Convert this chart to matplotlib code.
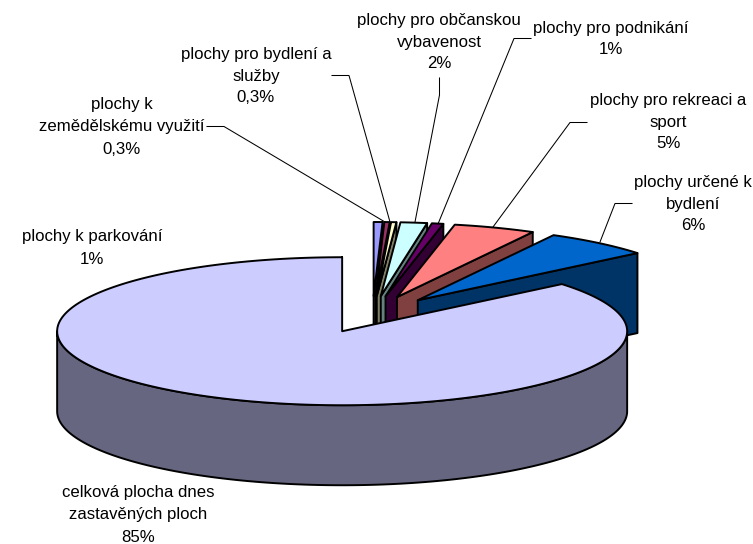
import numpy as np
import matplotlib
matplotlib.use("Agg")
import matplotlib.pyplot as plt
from matplotlib.patches import Polygon

# Slices in clockwise drawing order, starting at 12 o'clock
names = ["plochy k parkování", "plochy k\nzemědělskému využití", "plochy pro bydlení a\nslužby",
         "plochy pro občanskou\nvybavenost", "plochy pro podnikání", "plochy pro rekreaci a\nsport",
         "plochy určené k\nbydlení", "celková plocha dnes\nzastavěných ploch"]
value_labels = ["1%", "0,3%", "0,3%", "2%", "1%", "5%", "6%", "85%"]
values = [0.5, 0.3, 0.3, 1.5, 0.65, 4.65, 6.1, 85.95]
top_colors = ["#9999FF", "#993366", "#FFFFCC", "#CCFFFF", "#660066", "#FF8080", "#0066CC", "#CCCCFF"]
wall_colors = ["#4D4D80", "#4D1A33", "#808066", "#668080", "#330033", "#804040", "#003366", "#666680"]

# Chart layout, in pixels
W, H = 753, 544
CENTER = (372.5, 314.5)
RX, RY, DEPTH = 285.0, 74.0, 80.0
EXPLODE = 0.25
EDGE = 1.4

# label centre x, first-line centre y
label_pos = [(92, 237), (122, 105), (256, 54), (439, 20), (611, 28), (668, 100), (693, 182), (138, 493)]
leaders = [None,
           [(207, 126.5), (224, 126.5), (385, 222)],
           [(332, 75.5), (349, 75.5), (390, 222)],
           [(439.5, 78), (439.5, 95), (415, 222)],
           [(531, 38.5), (514, 38.5), (438, 224)],
           [(587, 122.5), (570, 122.5), (493, 227)],
           [(632, 203.5), (615, 203.5), (600, 242)],
           None]

plt.rcParams['font.family'] = ['Liberation Sans', 'DejaVu Sans']
fig = plt.figure(figsize=(W / 100, H / 100), dpi=100, facecolor="white")
ax = fig.add_axes([0, 0, 1, 1])
ax.set_xlim(0, W)
ax.set_ylim(H, 0)
ax.axis("off")


def rim(theta_deg, apex):
    t = np.radians(theta_deg)
    return np.column_stack([apex[0] + RX * np.sin(t), apex[1] - RY * np.cos(t)])


def extrude(path):
    lower = path[::-1] + np.array([0, DEPTH])
    return np.vstack([path, lower])


fractions = np.array(values) / np.sum(values) * 360.0
ends = np.cumsum(fractions)
starts = ends - fractions

for a0, a1, top_c, wall_c in zip(starts, ends, top_colors, wall_colors):
    mid = np.radians((a0 + a1) / 2)
    apex = np.array([CENTER[0] + EXPLODE * RX * np.sin(mid), CENTER[1] - EXPLODE * RY * np.cos(mid)])
    kw = dict(edgecolor="black", linewidth=EDGE, joinstyle="round")
    # radial walls that face the viewer
    for ang, vis in ((a1, 0 < a1 % 360 < 180), (a0, 180 < a0 % 360 < 360)):
        if vis:
            edge = np.vstack([apex, rim(np.array([ang]), apex)])
            ax.add_patch(Polygon(extrude(edge), facecolor=wall_c, **kw))
    # outer wall, front half only
    lo, hi = max(a0, 90), min(a1, 270)
    if hi > lo:
        arc = rim(np.linspace(lo, hi, 200), apex)
        ax.add_patch(Polygon(extrude(arc), facecolor=wall_c, **kw))
    # top face
    arc = rim(np.linspace(a0, a1, max(int(a1 - a0) * 2, 8)), apex)
    ax.add_patch(Polygon(np.vstack([apex, arc]), facecolor=top_c, **kw))

for pts in leaders:
    if pts:
        xs, ys = zip(*pts)
        ax.plot(xs, ys, color="black", lw=0.75, solid_joinstyle="miter", zorder=5)

for name, val, (x, y) in zip(names, value_labels, label_pos):
    lines = name.split("\n") + [val]
    for i, ln in enumerate(lines):
        ax.text(x, y + 22 * i, ln, ha="center", va="center", fontsize=12.1, color="black", zorder=6)

fig.savefig("out.png", dpi=100)
